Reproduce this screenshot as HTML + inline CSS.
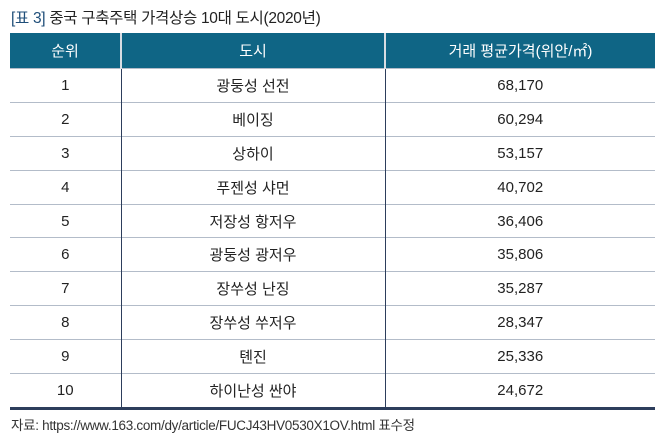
<!DOCTYPE html>
<html><head><meta charset="utf-8"><style>
body{margin:0;width:655px;height:441px;background:#fff;font-family:"Liberation Sans","Noto Sans CJK KR",sans-serif;position:relative;overflow:hidden;color:#222}
#title{position:absolute;left:11px;top:6px;font-size:15.5px;letter-spacing:-0.3px;color:#222}
#title b{font-weight:normal;color:#1f4e79}
table{position:absolute;left:10px;top:33px;width:645px;border-collapse:collapse;font-size:15px}
th{background:#0f6585;color:#fff;font-weight:normal;height:35px;padding:0;border-left:2px solid #d8dde3}
th:first-child{border-left:none}
td{height:32.9px;padding:0;text-align:center;border-top:1px solid #b3bcc9;border-left:1.5px solid #2d3e5c}
td:first-child{border-left:none}
tr:last-child td{border-bottom:3px solid #2d3e5c}
#src{position:absolute;left:11px;top:414px;font-size:13.5px;letter-spacing:-0.3px;color:#333}
</style></head><body>
<div id="title"><b>[표 3]</b> 중국 구축주택 가격상승 10대 도시(2020년)</div>
<table>
<colgroup><col style="width:111px"><col style="width:264px"><col></colgroup>
<tr><th>순위</th><th>도시</th><th>거래 평균가격(위안/㎡)</th></tr>
<tr><td>1</td><td>광둥성 선전</td><td>68,170</td></tr>
<tr><td>2</td><td>베이징</td><td>60,294</td></tr>
<tr><td>3</td><td>상하이</td><td>53,157</td></tr>
<tr><td>4</td><td>푸젠성 샤먼</td><td>40,702</td></tr>
<tr><td>5</td><td>저장성 항저우</td><td>36,406</td></tr>
<tr><td>6</td><td>광둥성 광저우</td><td>35,806</td></tr>
<tr><td>7</td><td>장쑤성 난징</td><td>35,287</td></tr>
<tr><td>8</td><td>장쑤성 쑤저우</td><td>28,347</td></tr>
<tr><td>9</td><td>톈진</td><td>25,336</td></tr>
<tr><td>10</td><td>하이난성 싼야</td><td>24,672</td></tr>
</table>
<div id="src">자료: https://www.163.com/dy/article/FUCJ43HV0530X1OV.html 표수정</div>
</body></html>
